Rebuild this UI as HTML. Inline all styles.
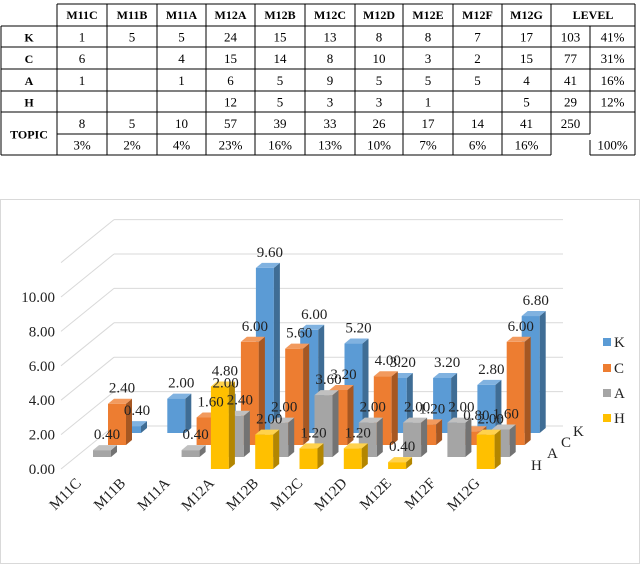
<!DOCTYPE html>
<html><head><meta charset="utf-8"><style>
body{margin:0;background:#fff;}
svg{display:block;font-family:"Liberation Serif",serif;}
</style></head><body>
<svg id="c" width="640" height="564" viewBox="0 0 640 564">
<g id="table"></g>
<rect x="0.5" y="199.5" width="639" height="364" fill="#fff" stroke="#d9d9d9"/>
<g id="grid"></g>
<g id="bars"></g>
<g id="axes"></g>
<g id="legend"></g>
</svg>
<script>
const categories=['M11C','M11B','M11A','M12A','M12B','M12C','M12D','M12E','M12F','M12G'];
const seriesNames=['H','A','C','K'];
const valuesK=[0.4,2,2,9.6,6,5.2,3.2,3.2,2.8,6.8];
const valuesC=[2.4,0,1.6,6,5.6,3.2,4,1.2,0.8,6];
const valuesA=[0.4,0,0.4,2.4,2,3.6,2,2,2,1.6];
const valuesH=[0,0,0,4.8,2,1.2,1.2,0.4,0,2];
const yTicks=[0,2,4,6,8,10,12];
const tableHead=['M11C','M11B','M11A','M12A','M12B','M12C','M12D','M12E','M12F','M12G'];
const tableRows=[['K','1','5','5','24','15','13','8','8','7','17','103','41%'],
['C','6','','4','15','14','8','10','3','2','15','77','31%'],
['A','1','','1','6','5','9','5','5','5','4','41','16%'],
['H','','','','12','5','3','3','1','','5','29','12%']];
const topicCounts=['8','5','10','57','39','33','26','17','14','41'];
const topicPct=['3%','2%','4%','23%','16%','13%','10%','7%','6%','16%'];

const NS='http://www.w3.org/2000/svg';
function mk(tag,attrs,parent,text){const e=document.createElementNS(NS,tag);for(const k in attrs)e.setAttribute(k,attrs[k]);if(text!==undefined)e.textContent=text;parent.appendChild(e);return e;}

const T=document.getElementById('table');
const colX=[1,57,107,157,206,255,305,355,403,453,502,551,590,635];
const rowY=[4,26,47,69,91,112,134,155];
function line(x1,y1,x2,y2,p){const l=mk('line',{x1,y1,x2,y2,stroke:'#000','stroke-width':1},p);

}
line(57,rowY[0],635,rowY[0],T);
for(let r=1;r<=5;r++) line(1,rowY[r],635,rowY[r],T);
line(57,rowY[6],590,rowY[6],T);
line(1,rowY[7],551,rowY[7],T);line(590,rowY[7],635,rowY[7],T);
line(1,rowY[1],1,rowY[7],T);
for(let c=1;c<colX.length;c++){
 if(c===12){line(colX[c],rowY[1],colX[c],rowY[6],T);line(colX[c],rowY[6]+6,colX[c],rowY[7],T);}
 else line(colX[c],rowY[0],colX[c],rowY[7],T);
}
function tt(x,y,s,bold,name){const t=mk('text',{x,y,'text-anchor':'middle','font-size':bold?12:13,'font-weight':bold?'bold':'normal',fill:'#000'},T,s);

}
tableHead.forEach((h,i)=>tt((colX[i+1]+colX[i+2])/2,19,h,true,'column-header'));
tt((colX[11]+colX[13])/2,19,'LEVEL',true,'column-header');
tableRows.forEach((row,r)=>{const y=(rowY[r+1]+rowY[r+2])/2+5;
 row.forEach((v,c)=>{if(v==='')return;tt(c===0?29:(colX[c]+colX[c+1])/2,y,v,c===0,c===0?'row-header':'table-cell');});});
tt(29,(rowY[5]+rowY[7])/2+5,'TOPIC',true,'row-header');
topicCounts.forEach((v,i)=>tt((colX[i+1]+colX[i+2])/2,(rowY[5]+rowY[6])/2+5,v,false,'topic-count'));
tt((colX[11]+colX[12])/2,(rowY[5]+rowY[6])/2+5,'250',false,'topic-total');
topicPct.forEach((v,i)=>tt((colX[i+1]+colX[i+2])/2,(rowY[6]+rowY[7])/2+5,v,false,'topic-percent'));
tt((colX[12]+colX[13])/2,(rowY[6]+rowY[7])/2+5,'100%',false,'topic-percent');

const unit=17.2, baseY=469, x0=78, step=44.3, rdx=15, rdy=-12, bw=18, sdx=6, sdy=-5;
function yv(v){return v*unit;}
function cx(i,r){return x0+i*step+r*rdx;}
function base(r){return baseY+r*rdy;}
const G=document.getElementById('grid');
const backDx=53, backDy=-43, wallL=61, wallR=563;
yTicks.forEach(t=>{const yf=baseY-yv(t), yb=yf+backDy;
 const d=mk('line',{x1:wallL,y1:yf,x2:wallL+backDx,y2:yb,stroke:'#d9d9d9'},G);
 
 
 const h=mk('line',{x1:wallL+backDx,y1:yb,x2:wallR,y2:yb,stroke:'#d9d9d9'},G);
 
 
 if(t<=10){const l=mk('text',{x:55,y:yf+5,'text-anchor':'end','font-size':15,fill:'#222'},G,t.toFixed(2));
 
 }
});
const B=document.getElementById('bars');
const seriesVals=[valuesH,valuesA,valuesC,valuesK];
const colors=[['#FFC000','#B38600','#FFD24D'],['#A5A5A5','#737373','#C0C0C0'],['#ED7D31','#A65722','#F29A5E'],['#5B9BD5','#3F6D95','#80B2E0']];
for(let r=3;r>=0;r--){
 seriesVals[r].forEach((v,i)=>{if(!v)return;
  const x=cx(i,r), b=base(r), top=b-yv(v), c=colors[r];
  const g=mk('g',{},B);
  
  
  mk('rect',{x,y:top,width:bw,height:b-top,fill:c[0]},g);
  mk('polygon',{points:`${x+bw},${top} ${x+bw+sdx},${top+sdy} ${x+bw+sdx},${b+sdy} ${x+bw},${b}`,fill:c[1]},g);
  mk('polygon',{points:`${x},${top} ${x+bw},${top} ${x+bw+sdx},${top+sdy} ${x+sdx},${top+sdy}`,fill:c[2]},g);
 });
}
for(let r=3;r>=0;r--){
 seriesVals[r].forEach((v,i)=>{if(!v)return;
  const x=cx(i,r), top=base(r)-yv(v);
  const l=mk('text',{x:x+14,y:top-11,'text-anchor':'middle','font-size':15,fill:'#222'},B,v.toFixed(2));
  
  
 });
}
const A=document.getElementById('axes');
categories.forEach((c,i)=>{const x=cx(i,0)+4,y=484;
 const t=mk('text',{x,y,'text-anchor':'end','font-size':15,fill:'#222',transform:`rotate(-45 ${x} ${y})`},A,c);
 
 });
const depthPos=[[531,470],[547,458],[561,447],[573,436]];
seriesNames.forEach((s,r)=>{const t=mk('text',{x:depthPos[r][0],y:depthPos[r][1],'font-size':15,fill:'#222'},A,s);
 
 });
const L=document.getElementById('legend');
const legOrder=[3,2,1,0], legY=[346,372,397,422];
legOrder.forEach((r,k)=>{const g=mk('g',{},L);
 
 
 mk('rect',{x:603,y:legY[k]-8,width:8,height:8,fill:colors[r][0]},g);
 mk('text',{x:614,y:legY[k]+1,'font-size':15,fill:'#222'},g,seriesNames[r]);});
</script>
</body></html>
